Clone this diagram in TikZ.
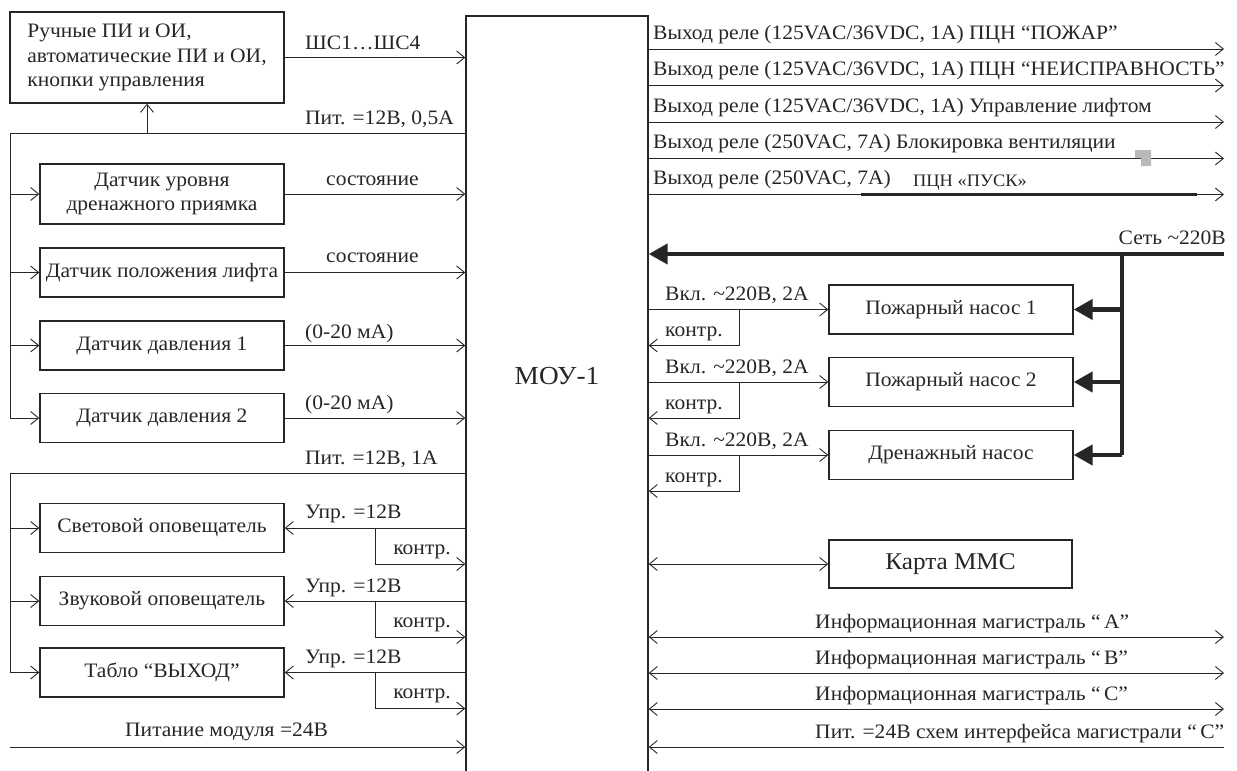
\documentclass[tikz,border=0pt]{standalone}
\usepackage{fontspec}
\setmainfont{Liberation Serif}[FakeStretch=1.05]
\usetikzlibrary{arrows.meta,calc}
\definecolor{ink}{RGB}{38,38,38}
\begin{document}
\begin{tikzpicture}[x=1pt,y=-1pt,
  font=\fontsize{20.5}{24.5}\selectfont,
  every node/.style={text=ink},
  box/.style={draw=ink, line width=1.4pt, minimum width=244pt, minimum height=49pt, inner sep=0pt, align=center},
  wire/.style={draw=ink, line width=1pt},
  tip/.tip={Straight Barb[length=8pt,width=13pt,line width=0.9pt]},
  arr/.style={wire, -tip},
  larr/.style={wire, tip-},
  darr/.style={wire, tip-tip},
  bus/.style={draw=ink, line width=4.5pt},
  tarr/.style={bus, -{Triangle[length=19pt,width=20pt]}},
  lbl/.style={inner sep=0pt, anchor=base west},
  rlbl/.style={inner sep=0pt, anchor=base east},
]
\useasboundingbox (0,0) rectangle (1237,771);

% main module
\node[draw=ink, line width=1.4pt, minimum width=182pt, minimum height=784pt, inner sep=0pt,
      label={[yshift=32pt,text=ink,font=\fontsize{26}{30}\selectfont]center:МОУ-1}] (mou) at (557,408) {};

% ---------- left side ----------
\node[box, minimum width=274pt, minimum height=91pt, align=left] (b0) at (147,57.5)
  {Ручные ПИ и ОИ,\\автоматические ПИ и ОИ,\\кнопки управления};
\node[box, minimum height=60pt] (d1) at (162,194) {Датчик уровня\\дренажного приямка};
\node[box] (d2) at (162,272.5) {Датчик положения лифта};
\node[box] (d3) at (162,345.5) {Датчик давления 1};
\node[box] (d4) at (162,418) {Датчик давления 2};
\node[box] (s1) at (162,528) {Световой оповещатель};
\node[box] (s2) at (162,601) {Звуковой оповещатель};
\node[box] (s3) at (162,672.5) {Табло “ВЫХОД”};

\coordinate (bus1) at (10,133);
\coordinate (bus2) at (10,473);
\coordinate (pwr) at (10,747);

\draw[arr] (b0.east) -- (b0.east -| mou.west);
\node[lbl] (l0) at (305,49) {ШС1…ШС4};
\draw[wire] (bus1 -| mou.west) -- (bus1) -- (d4.west -| bus1);
\draw[arr] (b0.south |- bus1) -- (b0.south);
\node[lbl] (l1) at (305,124) {Пит. =12В, 0,5А};
\foreach \n in {d1,d2,d3,d4}{
  \draw[arr] (\n.west -| bus1) -- (\n.west);
  \draw[arr] (\n.east) -- (\n.east -| mou.west);
}
\node[lbl] (l2) at (326,185) {состояние};
\node[lbl] (l3) at (326,262) {состояние};
\node[lbl] (l4) at (305,338) {(0-20 мА)};
\node[lbl] (l5) at (305,409) {(0-20 мА)};
\node[lbl] (l6) at (305,464) {Пит. =12В, 1А};

\draw[wire] (bus2 -| mou.west) -- (bus2) -- (s3.west -| bus2);
\foreach \n/\u in {s1/518,s2/592,s3/663}{
  \draw[arr] (\n.west -| bus2) -- (\n.west);
  \draw[arr] (\n.east -| mou.west) -- (\n.east);
  \draw[arr] ([xshift=91pt]\n.east) |- ([yshift=-36pt]\n.east -| mou.west);
  \node[lbl] at (305,\u) {Упр. =12В};
  \node[rlbl] at ([yshift=-26pt]\n.east -| 451,0) {контр.};
}
\draw[arr] (pwr) -- (pwr -| mou.west);
\node[lbl] (l7) at (125,736) {Питание модуля =24В};

% ---------- right side ----------
\coordinate (rend) at (1224,0);
\foreach \y/\t in {49/{Выход реле (125VAC/36VDC, 1A) ПЦН “ПОЖАР”},
                   85.5/{Выход реле (125VAC/36VDC, 1A) ПЦН “НЕИСПРАВНОСТЬ”},
                   122/{Выход реле (125VAC/36VDC, 1A) Управление лифтом},
                   158.5/{Выход реле (250VAC, 7A) Блокировка вентиляции},
                   194.5/{Выход реле (250VAC, 7A)}}{
  \draw[arr] (mou.east |- 0,\y) -- (rend |- 0,\y);
  \node[lbl] at (653,\y-10) {\t};
}
\node[lbl, font=\fontsize{17.5}{20}\selectfont] (pusk) at (913,186) {ПЦН «ПУСК»};
\draw[draw=ink, line width=2.2pt] (861,194.5) -- (1197,194.5);
\fill[gray!55] (1135,150) rectangle (1151,158) (1141,158) rectangle (1151,166);

% mains
\coordinate (net) at (1224,254);
\coordinate (tap) at (1122,254);
\draw[tarr] (net) -- (net -| mou.east);
\node[rlbl] (lnet) at (1226,244) {Сеть \textasciitilde220В};

\node[box] (p1) at (951,309.5) {Пожарный насос 1};
\node[box] (p2) at (951,382) {Пожарный насос 2};
\node[box] (p3) at (951,455) {Дренажный насос};
\draw[bus] (tap) -- (p3.east -| tap);
\foreach \n in {p1,p2,p3}{
  \draw[tarr] (\n.east -| tap) -- (\n.east);
  \draw[arr] (\n.west -| mou.east) -- (\n.west);
  \draw[arr] (\n.west -| 739,0) |- ([yshift=-36pt]\n.west -| mou.east);
  \node[lbl] at ([yshift=9pt]\n.west -| 665,0) {Вкл. \textasciitilde220В, 2А};
  \node[lbl] at ([yshift=-27pt]\n.west -| 665,0) {контр.};
}

\node[box, minimum width=243pt, minimum height=48pt, font=\fontsize{24}{30}\selectfont] (mmc) at (950.5,564) {Карта ММС};
\draw[darr] (mou.east |- mmc.west) -- (mmc.west);

\foreach \y/\t in {637/{Информационная магистраль “\,А”},
                   673/{Информационная магистраль “\,В”},
                   709/{Информационная магистраль “\,С”}}{
  \draw[darr] (mou.east |- 0,\y) -- (rend |- 0,\y);
  \node[lbl] at (815,\y-9) {\t};
}
\draw[larr] (mou.east |- 0,747) -- (rend |- 0,747);
\node[lbl] (l8) at (815,738) {Пит. =24В схем интерфейса магистрали “\,С”};
\end{tikzpicture}
\end{document}
